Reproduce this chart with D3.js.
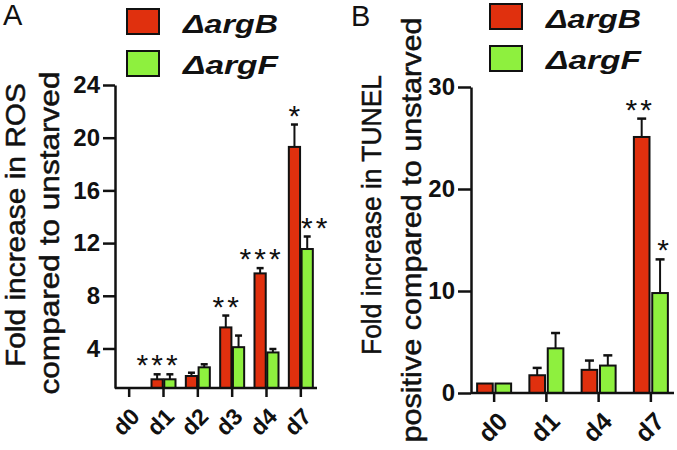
<!DOCTYPE html>
<html><head><meta charset="utf-8">
<script src="https://cdn.jsdelivr.net/npm/d3@7"></script>
<style>
body{margin:0;background:#fff}
svg{display:block;font-family:"Liberation Sans",Arial,Helvetica,sans-serif}
</style>
</head><body>
<svg id="chart" width="677" height="450"></svg>
<script>
// ---- data ----
const seriesNames = ["ΔargB", "ΔargF"];
const seriesColors = ["#e0300e", "#8ef03e"];

const rosDays = ["d0", "d1", "d2", "d3", "d4", "d7"];
const rosArgB = [1, 1.66, 1.91, 5.6, 9.7, 19.3];
const rosArgBErr = [0, 0.38, 0.25, 0.9, 0.4, 1.7];
const rosArgF = [1, 1.66, 2.57, 4.1, 3.7, 11.55];
const rosArgFErr = [0, 0.38, 0.23, 0.88, 0.26, 0.95];
const rosTicks = [4, 8, 12, 16, 20, 24];
const rosStars = [["d1", 0, "***"], ["d3", 0, "**"], ["d4", 0, "***"], ["d7", 0, "*"], ["d7", 1, "**"]];

const tunelDays = ["d0", "d1", "d4", "d7"];
const tunelArgB = [0.93, 1.74, 2.27, 25.1];
const tunelArgBErr = [0, 0.72, 0.91, 1.8];
const tunelArgF = [0.93, 4.38, 2.69, 9.8];
const tunelArgFErr = [0, 1.5, 1.0, 3.3];
const tunelTicks = [0, 10, 20, 30];
const tunelStars = [["d7", 0, "**"], ["d7", 1, "*"]];

const FONT = '"Liberation Sans", Arial, Helvetica, sans-serif';
const svg = d3.select("#chart");

function panel(cfg) {
  const g = svg.append("g");
  const y = d3.scaleLinear().domain(cfg.yDomain).range([cfg.bottom, cfg.top]);
  const x = d3.scaleBand().domain(cfg.days).range(cfg.xRange);
  const inner = d3.scaleBand().domain([0, 1]).range([-cfg.half, cfg.half]).paddingInner(cfg.innerPad);
  const cx = (day, s) => x(day) + x.bandwidth() / 2 + inner(s) + inner.bandwidth() / 2;

  const rows = [];
  cfg.days.forEach((d, i) => {
    rows.push({day: d, s: 0, v: cfg.vals[0][i], e: cfg.errs[0][i]});
    rows.push({day: d, s: 1, v: cfg.vals[1][i], e: cfg.errs[1][i]});
  });

  // error bars
  g.selectAll("line.err").data(rows.filter(r => r.e > 0)).join("line")
    .attr("class", "err")
    .attr("x1", r => cx(r.day, r.s)).attr("x2", r => cx(r.day, r.s))
    .attr("y1", r => y(r.v)).attr("y2", r => y(r.v + r.e))
    .attr("stroke", "#111").attr("stroke-width", 2);
  g.selectAll("line.cap").data(rows.filter(r => r.e > 0)).join("line")
    .attr("class", "cap")
    .attr("x1", r => cx(r.day, r.s) - cfg.cap / 2)
    .attr("x2", r => cx(r.day, r.s) + cfg.cap / 2)
    .attr("y1", r => y(r.v + r.e)).attr("y2", r => y(r.v + r.e))
    .attr("stroke", "#111").attr("stroke-width", 2.5);

  // bars
  g.selectAll("rect.bar").data(rows).join("rect")
    .attr("class", "bar")
    .attr("x", r => x(r.day) + x.bandwidth() / 2 + inner(r.s))
    .attr("width", inner.bandwidth())
    .attr("y", r => y(r.v))
    .attr("height", r => Math.max(0, y(cfg.yDomain[0]) - y(r.v)))
    .attr("fill", r => seriesColors[r.s])
    .attr("stroke", "#111").attr("stroke-width", 2);

  // stars
  g.selectAll("text.star").data(cfg.stars).join("text")
    .attr("class", "star")
    .attr("x", st => cx(st[0], st[1]) + 1.5 + (cfg.starShift[st[0] + st[1]] || 0))
    .attr("y", st => {
      const i = cfg.days.indexOf(st[0]);
      return y(cfg.vals[st[1]][i] + cfg.errs[st[1]][i]) + 1;
    })
    .attr("text-anchor", "middle")
    .style("font-size", "30px").style("letter-spacing", "3px")
    .attr("fill", "#111")
    .text(st => st[2]);

  // y axis
  const ya = g.append("g").attr("transform", `translate(${cfg.axisX},0)`)
    .call(d3.axisLeft(y).tickValues(cfg.ticks).tickSize(cfg.tickLen).tickSizeOuter(0).tickPadding(3));
  ya.attr("font-family", null).attr("font-size", null);
  ya.select(".domain").attr("stroke", "#111").attr("stroke-width", 2.5);
  ya.selectAll(".tick line").attr("stroke", "#111").attr("stroke-width", 2.5);
  ya.selectAll(".tick text").style("font-family", FONT)
    .style("font-size", "24px").style("font-weight", "bold").attr("fill", "#111");

  // x axis
  const xa = g.append("g").attr("transform", `translate(0,${cfg.bottom})`)
    .call(d3.axisBottom(x).tickSize(9).tickSizeOuter(0));
  xa.attr("font-family", null).attr("font-size", null);
  xa.select(".domain").remove();
  xa.append("line").attr("x1", cfg.axisX).attr("x2", cfg.xEnd).attr("y1", 0).attr("y2", 0)
    .attr("stroke", "#111").attr("stroke-width", 2.5);
  xa.selectAll(".tick line").attr("stroke", "#111").attr("stroke-width", 2.5);
  xa.selectAll(".tick text")
    .attr("x", 0).attr("y", 0).attr("dy", 0)
    .attr("transform", `translate(${cfg.xlab[0]},${cfg.xlab[1]}) rotate(-45)`)
    .style("text-anchor", "end").style("font-family", FONT)
    .style("font-size", cfg.xlab[2] + "px").style("font-weight", "bold").attr("fill", "#111");

  // y label
  cfg.ylabel.forEach(l => {
    g.append("text")
      .attr("transform", `translate(${l.x},${l.y}) rotate(-90)`)
      .attr("text-anchor", "middle")
      .attr("textLength", l.len).attr("lengthAdjust", "spacingAndGlyphs")
      .style("font-size", "28px").attr("fill", "#111")
      .attr("stroke", "#111").attr("stroke-width", 0.5)
      .text(l.t);
  });

  // panel letter
  g.append("text").attr("x", cfg.letter[0]).attr("y", cfg.letter[1])
    .style("font-size", "29px").attr("fill", "#111").text(cfg.letter[2]);

  // legend
  seriesNames.forEach((n, i) => {
    g.append("rect").attr("x", cfg.leg[0]).attr("y", cfg.leg[1] + i * 42)
      .attr("width", 32).attr("height", 25)
      .attr("fill", seriesColors[i]).attr("stroke", "#111").attr("stroke-width", 2);
    g.append("text").attr("x", cfg.leg[0] + 56).attr("y", cfg.leg[1] + 24 + i * 41)
      .attr("textLength", 95).attr("lengthAdjust", "spacingAndGlyphs")
      .style("font-size", "26px").style("font-weight", "bold").style("font-style", "italic")
      .attr("fill", "#111").text(n);
  });
}

panel({
  days: rosDays, vals: [rosArgB, rosArgF], errs: [rosArgBErr, rosArgFErr],
  yDomain: [1, 24], top: 85, bottom: 388, xRange: [112, 318], axisX: 115, xEnd: 317,
  half: 12, innerPad: 0.12, cap: 7, tickLen: 12, ticks: rosTicks, stars: rosStars,
  starShift: {"d71": 7},
  xlab: [12, 30, 23],
  ylabel: [{t: "Fold increase in ROS", x: 25, y: 225, len: 284},
           {t: "compared to unstarved", x: 59, y: 233, len: 323}],
  letter: [3, 25, "A"], leg: [127, 9]
});

panel({
  days: tunelDays, vals: [tunelArgB, tunelArgF], errs: [tunelArgBErr, tunelArgFErr],
  yDomain: [0, 30], top: 87, bottom: 393, xRange: [468, 677], axisX: 471, xEnd: 674,
  half: 17, innerPad: 0.15, cap: 9, tickLen: 13, ticks: tunelTicks, stars: tunelStars,
  starShift: {"d70": -3, "d71": 3},
  xlab: [15, 30, 25],
  ylabel: [{t: "Fold increase in TUNEL", x: 381, y: 215, len: 280},
           {t: "positive compared to unstarved", x: 421, y: 230, len: 425}],
  letter: [351, 26, "B"], leg: [490, 4]
});
</script>
</body></html>
